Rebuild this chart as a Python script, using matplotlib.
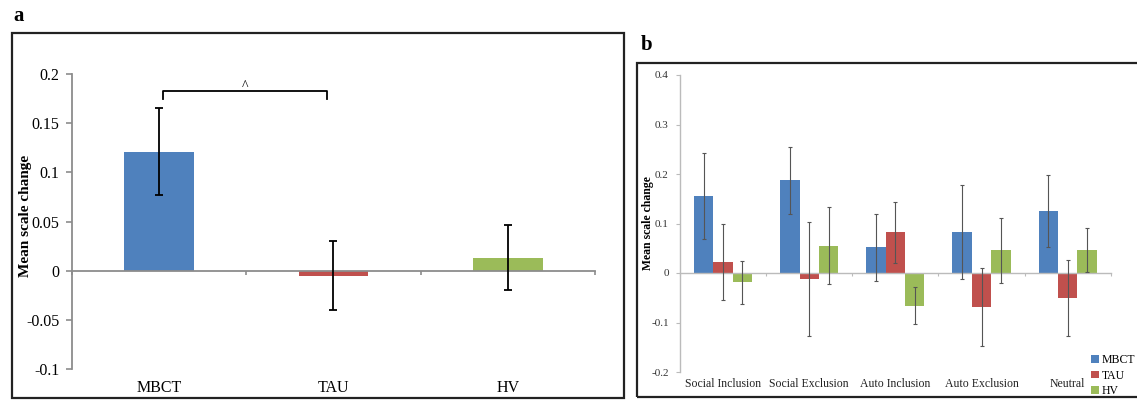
import numpy as np
import matplotlib
matplotlib.use("Agg")
import matplotlib.pyplot as plt
from matplotlib.patches import Rectangle

plt.rcParams['font.family'] = ['Liberation Serif', 'DejaVu Serif']

# panel a data
groups_a = ["MBCT", "TAU", "HV"]
mean_a = [0.121, -0.005, 0.013]
err_a = [0.044, 0.035, 0.033]

# panel b data
conditions = ["Social Inclusion", "Social Exclusion", "Auto Inclusion", "Auto Exclusion", "Neutral"]
mbct_b = [0.156, 0.187, 0.052, 0.083, 0.125]
tau_b = [0.022, -0.012, 0.082, -0.069, -0.050]
hv_b = [-0.019, 0.055, -0.066, 0.046, 0.046]
mbct_err = [0.087, 0.068, 0.068, 0.095, 0.072]
tau_err = [0.077, 0.115, 0.062, 0.079, 0.077]
hv_err = [0.044, 0.078, 0.037, 0.066, 0.044]

colors = ["#4F81BD", "#C0504D", "#9BBB59"]
axis_grey = "#8C8C8C"

fig = plt.figure(figsize=(11.37, 4.0), dpi=100)

# frames around each panel
fig.patches.append(Rectangle((0.0106, 0.005), 0.538, 0.9125, transform=fig.transFigure,
                             fill=False, lw=1.6, ec="#222222"))
fig.patches.append(Rectangle((0.5605, 0.0075), 0.45, 0.835, transform=fig.transFigure,
                             fill=False, lw=1.6, ec="#222222"))
fig.text(0.0115, 0.96, "a", fontsize=15, fontweight="bold", va="center", ha="left")
fig.text(0.5635, 0.888, "b", fontsize=15, fontweight="bold", va="center", ha="left")

# ---- panel a
ax = fig.add_axes([0.0633, 0.0775, 0.460, 0.7375])
xa = np.arange(len(groups_a))
ax.bar(xa, mean_a, width=0.4, color=colors, zorder=2)
ax.errorbar(xa, mean_a, yerr=err_a, fmt="none", ecolor="black", elinewidth=1.3,
            capsize=3, capthick=1.3, zorder=3)
ax.set_xlim(-0.5, 2.5)
ax.set_ylim(-0.1, 0.2)
ax.set_yticks([-0.1, -0.05, 0, 0.05, 0.1, 0.15, 0.2])
ax.set_yticklabels(["-0.1", "-0.05", "0", "0.05", "0.1", "0.15", "0.2"])
for s in ["top", "right"]:
    ax.spines[s].set_visible(False)
ax.spines["bottom"].set_position(("data", 0))
for s in ["left", "bottom"]:
    ax.spines[s].set_color(axis_grey)
    ax.spines[s].set_linewidth(1.3)
ax.set_xticks([-0.5, 0.5, 1.5, 2.5])
ax.set_xticklabels([])
ax.tick_params(axis="x", direction="out", length=3, color=axis_grey, width=1.2)
ax.tick_params(axis="y", direction="out", length=4, color=axis_grey, width=1.2,
               labelsize=11.5, pad=5)
for i, g in enumerate(groups_a):
    ax.text(i, -0.064, g, transform=ax.get_xaxis_transform(), ha="center", va="center",
            fontsize=11.5)
ax.set_ylabel("Mean scale change", fontsize=11, fontweight="bold")
ax.yaxis.set_label_coords(-0.077, 0.52)
# significance bracket MBCT vs TAU
ax.plot([0.02, 0.02, 0.96, 0.96], [0.175, 0.183, 0.183, 0.175], color="black", lw=1.3,
        solid_joinstyle="round")
ax.text(0.49, 0.181, "^", ha="center", va="bottom", fontsize=10)

# ---- panel b
bx = fig.add_axes([0.598, 0.07, 0.379, 0.7425])
xb = np.arange(len(conditions))
w = 0.225
series = [(mbct_b, mbct_err, "MBCT"), (tau_b, tau_err, "TAU"), (hv_b, hv_err, "HV")]
for k, (vals, errs, lab) in enumerate(series):
    pos = xb + (k - 1) * w
    bx.bar(pos, vals, width=w, color=colors[k], label=lab, zorder=2)
    bx.errorbar(pos, vals, yerr=errs, fmt="none", ecolor="#555555", elinewidth=0.8,
                capsize=1.5, capthick=0.8, zorder=3)
bx.set_xlim(-0.5, 4.5)
bx.set_ylim(-0.2, 0.4)
bx.set_yticks([-0.2, -0.1, 0, 0.1, 0.2, 0.3, 0.4])
bx.set_yticklabels(["-0.2", "-0.1", "0", "0.1", "0.2", "0.3", "0.4"])
for s in ["top", "right"]:
    bx.spines[s].set_visible(False)
bx.spines["bottom"].set_position(("data", 0))
for s in ["left", "bottom"]:
    bx.spines[s].set_color("#BBBBBB")
    bx.spines[s].set_linewidth(1.0)
bx.set_xticks(np.arange(-0.5, 5, 1.0))
bx.set_xticklabels([])
bx.tick_params(axis="x", direction="out", length=2, color="#BBBBBB", width=0.8)
bx.tick_params(axis="y", direction="out", length=3, color="#BBBBBB", width=0.8,
               labelsize=8, pad=5, labelcolor="#333333")
for i, c in enumerate(conditions):
    bx.text(i, -0.04, c, transform=bx.get_xaxis_transform(), ha="center", va="center",
            fontsize=8.5, color="#222222")
bx.set_ylabel("Mean scale change", fontsize=8.5, fontweight="bold")
bx.yaxis.set_label_coords(-0.06, 0.5)
bx.legend(loc="lower left", bbox_to_anchor=(0.955, -0.085), frameon=False, fontsize=8.5,
          handlelength=0.6, handleheight=0.6, handletextpad=0.3, labelspacing=0.3,
          borderpad=0, borderaxespad=0)

fig.savefig("out.png", dpi=100)
